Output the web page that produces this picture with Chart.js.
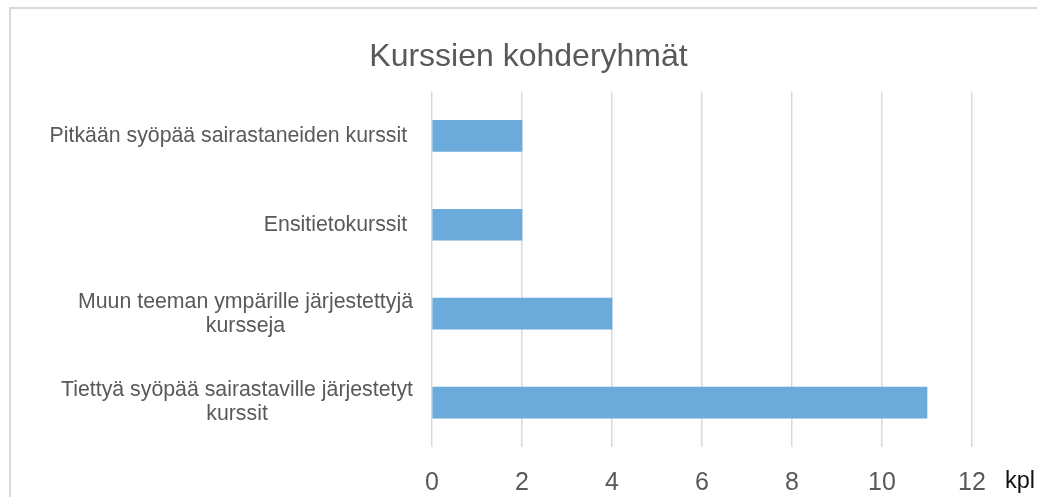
<!DOCTYPE html>
<html>
<head>
<meta charset="utf-8">
<script src="https://cdn.jsdelivr.net/npm/chart.js@4"></script>
<style>
  html, body { margin: 0; padding: 0; background: #fff; overflow: hidden; }
  #wrap { position: relative; width: 1037px; height: 497px; }
  #frame { position: absolute; left: 9px; top: 7px; width: 1100px; height: 600px;
           border-top: 2px solid #d9d9d9; border-left: 2px solid #d9d9d9; }
  canvas { position: absolute; left: 0; top: 0; }
</style>
</head>
<body>
<div id="wrap">
  <div id="frame"></div>
  <canvas id="kurssit" width="1037" height="497"></canvas>
</div>
<script>
  // ── data ──
  const chartTitle = 'Kurssien kohderyhmät';
  const categories = [
    ['Pitkään syöpää sairastaneiden kurssit '],
    ['Ensitietokurssit '],
    ['Muun teeman ympärille järjestettyjä', 'kursseja'],
    ['Tiettyä syöpää sairastaville järjestetyt', 'kurssit']
  ];
  const counts = [2, 2, 4, 11];
  const axisUnit = 'kpl';

  const grey = '#595959';
  const font = '"Liberation Sans", Arial, sans-serif';

  // category labels: block right-aligned, lines centered on the widest one
  const catLabels = {
    id: 'catLabels',
    afterDraw(chart) {
      const ctx = chart.ctx;
      const y = chart.scales.y;
      const right = chart.chartArea.left - 19;
      ctx.save();
      ctx.font = '21.3px ' + font;
      ctx.fillStyle = grey;
      ctx.textAlign = 'center';
      ctx.textBaseline = 'middle';
      categories.forEach((lines, i) => {
        const w = Math.max(...lines.map(l => ctx.measureText(l).width));
        const cx = right - w / 2;
        const cy = y.getPixelForValue(i);
        const lh = 24;
        lines.forEach((l, j) => {
          ctx.fillText(l, cx, cy + (j - (lines.length - 1) / 2) * lh);
        });
      });
      // unit next to the last tick
      const x = chart.scales.x;
      ctx.font = '23.5px ' + font;
      ctx.fillStyle = '#111';
      ctx.textAlign = 'left';
      ctx.fillText(axisUnit, x.getPixelForValue(12) + 33, 482);
      ctx.restore();
    }
  };

  new Chart(document.getElementById('kurssit'), {
    type: 'bar',
    data: {
      labels: categories,
      datasets: [{
        data: counts,
        backgroundColor: '#6aabdc',
        barThickness: 31
      }]
    },
    options: {
      indexAxis: 'y',
      responsive: false,
      animation: false,
      layout: { padding: { left: 20, right: 0, top: 0, bottom: 0 } },
      plugins: {
        legend: { display: false },
        tooltip: { enabled: false },
        title: {
          display: true,
          text: chartTitle,
          color: grey,
          font: { family: font, size: 32, weight: 'normal' },
          padding: { top: 38, bottom: 15 }
        }
      },
      scales: {
        x: {
          min: 0,
          max: 12,
          ticks: { stepSize: 2, color: grey, font: { family: font, size: 25 }, padding: 21 },
          grid: { color: '#d9d9d9', lineWidth: 1.5, drawTicks: false },
          border: { display: false },
          afterFit(s) { s.height = 50; s.paddingRight = 65; }
        },
        y: {
          ticks: { display: false },
          grid: { display: false },
          border: { display: false },
          afterFit(s) { s.width = 412; }
        }
      }
    },
    plugins: [catLabels]
  });
</script>
</body>
</html>
